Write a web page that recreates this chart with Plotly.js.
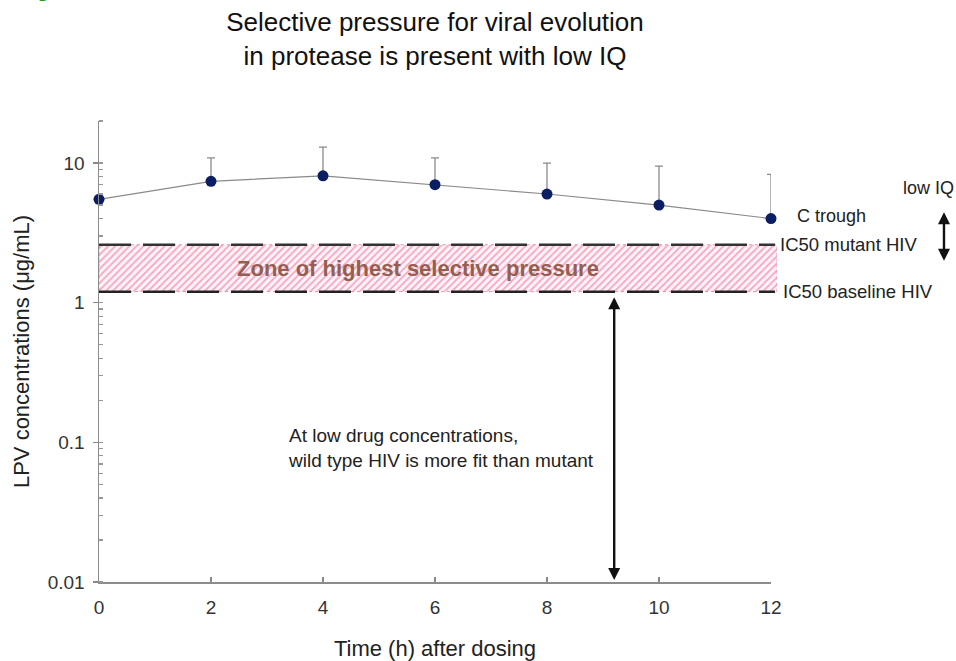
<!DOCTYPE html>
<html>
<head>
<meta charset="utf-8">
<script src="https://cdn.plot.ly/plotly-3.0.1.min.js"></script>
<style>html,body{margin:0;padding:0;background:#fff;}#chart{width:956px;height:661px;}</style>
</head>
<body>
<div id="chart"></div>
<script>
// ---- data ----
const hours = [0, 2, 4, 6, 8, 10, 12];
const lpvMean = [5.5, 7.4, 8.1, 7.0, 6.0, 5.0, 4.0];
const lpvSdUpper = [0, 3.5, 4.9, 3.9, 4.0, 4.5, 4.3];
const ic50Mutant = 2.6;
const ic50Baseline = 1.2;
const xTickVals = [0, 2, 4, 6, 8, 10, 12];
const yTickVals = [0.01, 0.1, 1, 10];
const yTickText = ['0.01', '0.1', '1', '10'];
const arrowTime = 9.2;          // vertical arrow position (h)
const zoneLabel = 'Zone of highest selective pressure';

const FONT = 'Liberation Sans, Arial, sans-serif';
const plotLeft = 99, plotRight = 777, axisRight = 771;
const xDomEnd = (axisRight - plotLeft) / (plotRight - plotLeft);
const x2End = 12 / xDomEnd;

const zoneTrace = {
  x: [0, x2End, x2End, 0, 0],
  y: [ic50Baseline, ic50Baseline, ic50Mutant, ic50Mutant, ic50Baseline],
  xaxis: 'x2', yaxis: 'y',
  mode: 'lines', fill: 'toself',
  fillcolor: 'rgba(255,255,255,0)',
  fillpattern: {shape: '/', fgcolor: '#f7a6c4', bgcolor: '#fff4f8', size: 5, solidity: 0.35},
  line: {color: '#f28cb1', width: 1, dash: 'dot'},
  hoverinfo: 'skip', showlegend: false
};

const lpvTrace = {
  x: hours, y: lpvMean,
  mode: 'lines+markers',
  line: {color: '#8a8a8a', width: 1.2},
  marker: {color: '#0b1d63', size: 11},
  error_y: {type: 'data', symmetric: false, array: lpvSdUpper, arrayminus: hours.map(() => 0),
            color: '#8a8a8a', thickness: 1.3, width: 4},
  showlegend: false, cliponaxis: false
};

const log = Math.log10;
const layout = {
  width: 956, height: 661,
  margin: {l: plotLeft, r: 956 - plotRight, t: 121, b: 79},
  paper_bgcolor: '#ffffff', plot_bgcolor: 'rgba(0,0,0,0)',
  font: {family: FONT, color: '#222'},
  showlegend: false,
  title: {
    text: 'Selective pressure for viral evolution<br>in protease is present with low IQ',
    font: {family: FONT, size: 26, color: '#111'},
    x: 0.455, xref: 'container', xanchor: 'center',
    y: 0.953, yref: 'container', yanchor: 'middle'
  },
  xaxis: {
    domain: [0, xDomEnd], range: [0, 12],
    tickmode: 'array', tickvals: xTickVals,
    ticks: 'inside', ticklen: 5, tickcolor: '#888', tickwidth: 1.2,
    showline: true, linecolor: '#8c8c8c', linewidth: 1.5,
    showgrid: false, zeroline: false,
    tickfont: {family: FONT, size: 19, color: '#333'},
    ticklabelstandoff: 8,
    title: {text: 'Time (h) after dosing', font: {family: FONT, size: 22, color: '#222'}, standoff: 24}
  },
  xaxis2: {domain: [0, 1], range: [0, x2End], anchor: 'y', visible: false, showgrid: false, zeroline: false},
  yaxis: {
    type: 'log', range: [-2, log(20)], anchor: 'x',
    tickmode: 'array', tickvals: yTickVals, ticktext: yTickText,
    ticks: 'outside', ticklen: 5, tickcolor: '#888', tickwidth: 1.2,
    minor: {ticks: 'inside', ticklen: 4, tickcolor: '#999', dtick: 'D1', showgrid: false},
    showline: true, linecolor: '#8c8c8c', linewidth: 1.5,
    showgrid: false, zeroline: false,
    tickfont: {family: FONT, size: 19, color: '#333'},
    ticklabelstandoff: 4,
    title: {text: 'LPV concentrations (μg/mL)', font: {family: FONT, size: 22, color: '#222'}, standoff: 12}
  },
  shapes: [
    {type: 'line', xref: 'paper', yref: 'y', x0: 0, x1: 0.997, y0: ic50Mutant, y1: ic50Mutant,
     line: {color: '#333', width: 2.5, dash: '32px,12px'}},
    {type: 'line', xref: 'paper', yref: 'y', x0: 0, x1: 0.997, y0: ic50Baseline, y1: ic50Baseline,
     line: {color: '#222', width: 2.5, dash: '32px,12px'}}
  ],
  annotations: [
    {text: zoneLabel, xref: 'x', yref: 'y', x: 5.7, y: (log(ic50Mutant) + log(ic50Baseline)) / 2,
     showarrow: false, font: {family: FONT, size: 22, color: '#93604f', weight: 'bold'}},
    {text: 'C trough', xref: 'paper', yref: 'y', x: 1.026, y: log(lpvMean[6]) + 0.02, xanchor: 'left',
     showarrow: false, font: {family: FONT, size: 18, color: '#222'}},
    {text: 'IC50 mutant HIV', xref: 'paper', yref: 'y', x: 1.002, y: log(ic50Mutant), xanchor: 'left',
     showarrow: false, font: {family: FONT, size: 18.5, color: '#222'}},
    {text: 'IC50 baseline HIV', xref: 'paper', yref: 'y', x: 1.006, y: log(ic50Baseline), xanchor: 'left',
     showarrow: false, font: {family: FONT, size: 18.5, color: '#222'}},
    {text: 'low IQ', xref: 'paper', yref: 'y', x: 1.2640, y: 0.82, xanchor: 'right',
     showarrow: false, font: {family: FONT, size: 18, color: '#222'}},
    {text: '', xref: 'paper', yref: 'y', x: 1.2463, y: 0.30, axref: 'pixel', ayref: 'pixel', ax: 0, ay: -50,
     showarrow: true, arrowside: 'end+start', arrowhead: 2, arrowsize: 1, arrowwidth: 2.4, arrowcolor: '#111'},
    {text: '', xref: 'x', yref: 'y', x: arrowTime, y: -1.985, axref: 'x', ayref: 'y', ax: arrowTime, ay: 0.05,
     showarrow: true, arrowside: 'end+start', arrowhead: 2, arrowsize: 1, arrowwidth: 2.4, arrowcolor: '#111'},
    {text: 'At low drug concentrations,<br>wild type HIV is more fit than mutant', xref: 'x', yref: 'y',
     x: 3.34, y: -1.043, xanchor: 'left', align: 'left', showarrow: false,
     font: {family: FONT, size: 19, color: '#222'}},
    {text: 'g', xref: 'paper', yref: 'paper', x: -0.0826, y: 1.255, xanchor: 'center', yanchor: 'bottom',
     showarrow: false, font: {family: 'Liberation Serif, serif', size: 20, color: '#1a9a1a', weight: 'bold'}}
  ]
};

Plotly.newPlot('chart', [zoneTrace, lpvTrace], layout, {displayModeBar: false, staticPlot: true});
</script>
</body>
</html>
